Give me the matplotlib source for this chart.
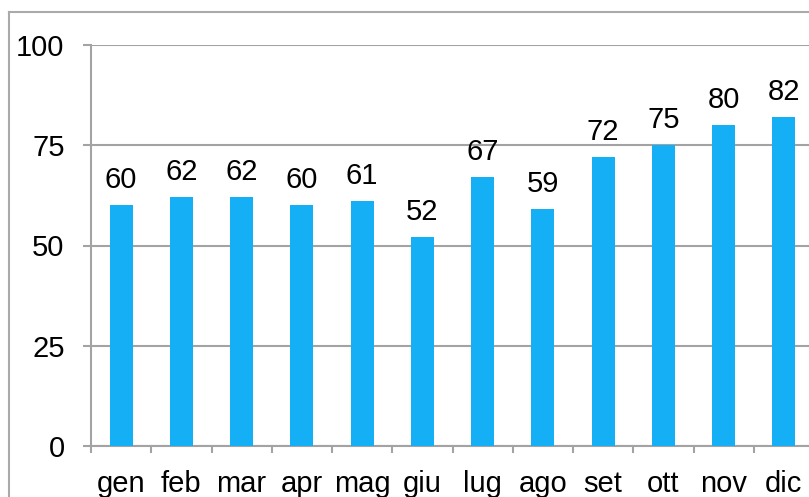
import matplotlib.pyplot as plt
from matplotlib.lines import Line2D

plt.rcParams['font.family'] = ['Liberation Sans', 'DejaVu Sans']

months = ["gen", "feb", "mar", "apr", "mag", "giu", "lug", "ago", "set", "ott", "nov", "dic"]
values = [60, 62, 62, 60, 61, 52, 67, 59, 72, 75, 80, 82]
yticks = [0, 25, 50, 75, 100]

bar_color = "#14AFF5"
grid_color = "#A3A3A3"

fig = plt.figure(figsize=(8.09, 4.97), dpi=100)
ax = fig.add_axes([91 / 809, 1 - 446 / 497, 723 / 809, 401 / 497])

x = list(range(len(months)))
ax.bar(x, values, width=0.38, color=bar_color, zorder=3)

for xi, v in zip(x, values):
    ax.annotate(str(v), (xi, v), xytext=(0, 8), textcoords="offset points",
                ha="center", va="bottom", fontsize=21, color="black")

ax.set_xlim(-0.5, 11.5)
ax.set_ylim(0, 100)
ax.set_yticks(yticks)
ax.set_yticklabels([str(t) for t in yticks], fontsize=21)
ax.yaxis.grid(True, color=grid_color, lw=1.5, zorder=0)
ax.tick_params(axis="y", length=6, width=1.5, color=grid_color, pad=13)

ax.set_xticks(x)
ax.set_xticklabels(months, fontsize=21)
ax.tick_params(axis="x", which="major", length=0, pad=17)
ax.set_xticks([i - 0.5 for i in range(len(months) + 1)], minor=True)
ax.tick_params(axis="x", which="minor", length=5, width=1.5, color=grid_color)

for side in ["top", "right"]:
    ax.spines[side].set_visible(False)
for side in ["left", "bottom"]:
    ax.spines[side].set_color(grid_color)
    ax.spines[side].set_linewidth(1.5)

# outer frame of the chart area
fig.add_artist(Line2D([9 / 809, 1.0], [1 - 12 / 497, 1 - 12 / 497], color="#AAAAAA", lw=1.5))
fig.add_artist(Line2D([9 / 809, 9 / 809], [0, 1 - 12 / 497], color="#AAAAAA", lw=1.5))

fig.savefig("out.png", dpi=100)
